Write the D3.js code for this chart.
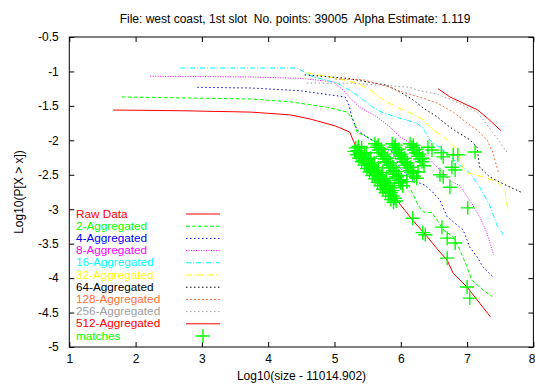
<!DOCTYPE html>
<html><head><meta charset="utf-8">
<script src="https://cdn.jsdelivr.net/npm/d3@7"></script>
<style>body{margin:0;background:#fff}text{font-family:"Liberation Sans",Arial,sans-serif;font-size:12px;white-space:pre}</style>
</head><body><svg id="c" width="535" height="386"></svg>
<script>
const titleText = "File: west coast, 1st slot  No. points: 39005  Alpha Estimate: 1.119";
const xTitle = "Log10(size - 11014.902)";
const yTitle = "Log10(P[X > x])";
const xTicks = [1,2,3,4,5,6,7,8];
const yTicks = [-5,-4.5,-4,-3.5,-3,-2.5,-2,-1.5,-1,-0.5];
const seriesNames = ["Raw Data","2-Aggregated","4-Aggregated","8-Aggregated","16-Aggregated","32-Aggregated","64-Aggregated","128-Aggregated","256-Aggregated","512-Aggregated"];

const raw = [[1.66,-1.56],[2.67,-1.57],[3.73,-1.59],[4.33,-1.63],[4.63,-1.69],[5.01,-1.79],[5.23,-1.88],[5.29,-2.02],[5.35,-2.13],[5.46,-2.29],[5.66,-2.50],[5.84,-2.72],[5.94,-2.87],[6.09,-3.05],[6.18,-3.16],[6.40,-3.40],[6.56,-3.59],[6.70,-3.74],[6.79,-3.93],[7.00,-4.13],[7.35,-4.56]];
const agg2 = [[1.79,-1.37],[3.73,-1.40],[4.33,-1.44],[4.89,-1.52],[5.19,-1.59],[5.28,-1.70],[5.34,-1.88],[5.49,-1.95],[5.64,-2.04],[5.84,-2.24],[5.99,-2.46],[6.14,-2.69],[6.26,-2.94],[6.34,-3.04],[6.47,-3.05],[6.55,-3.16],[6.64,-3.30],[6.79,-3.40],[6.89,-3.59],[7.00,-3.84],[7.07,-4.03],[7.24,-4.17],[7.38,-4.27]];
const agg4 = [[2.93,-1.23],[3.73,-1.24],[4.48,-1.28],[4.93,-1.34],[5.16,-1.37],[5.22,-1.49],[5.26,-1.66],[5.34,-1.85],[5.49,-1.95],[5.73,-2.10],[5.88,-2.17],[5.99,-2.40],[6.18,-2.58],[6.36,-2.65],[6.48,-2.75],[6.59,-2.87],[6.70,-3.11],[6.85,-3.23],[6.94,-3.30],[7.04,-3.55],[7.15,-3.69],[7.24,-3.84],[7.39,-3.98]];
const agg8 = [[2.22,-1.07],[3.73,-1.08],[4.48,-1.10],[4.98,-1.15],[5.13,-1.27],[5.24,-1.39],[5.38,-1.52],[5.64,-1.66],[5.84,-1.81],[5.99,-1.95],[6.14,-2.04],[6.34,-2.18],[6.55,-2.39],[6.74,-2.58],[6.89,-2.66],[7.04,-2.87],[7.19,-3.11],[7.30,-3.35],[7.40,-3.66]];
const agg16 = [[2.67,-0.95],[4.43,-0.95],[4.55,-1.01],[4.66,-1.07],[5.04,-1.17],[5.23,-1.27],[5.43,-1.41],[5.58,-1.52],[5.73,-1.60],[5.99,-1.68],[6.24,-1.75],[6.33,-1.82],[6.44,-2.00],[6.64,-2.14],[6.85,-2.33],[7.04,-2.47],[7.19,-2.68],[7.34,-2.94],[7.45,-3.23],[7.54,-3.36]];
const agg32 = [[4.58,-1.02],[5.04,-1.10],[5.34,-1.17],[5.54,-1.27],[5.73,-1.41],[5.94,-1.52],[6.14,-1.60],[6.34,-1.70],[6.44,-1.81],[6.55,-1.89],[6.70,-1.99],[6.85,-2.14],[6.91,-2.29],[6.93,-2.40],[7.00,-2.47],[7.24,-2.53],[7.45,-2.60],[7.57,-2.72],[7.62,-3.05]];
const agg64 = [[4.55,-1.05],[5.19,-1.10],[5.79,-1.20],[5.99,-1.30],[6.18,-1.41],[6.34,-1.53],[6.55,-1.66],[6.70,-1.78],[6.85,-1.88],[7.04,-1.99],[7.15,-2.10],[7.19,-2.39],[7.34,-2.53],[7.54,-2.63],[7.83,-2.76]];
const agg128 = [[5.01,-1.11],[5.43,-1.12],[5.84,-1.23],[6.03,-1.30],[6.34,-1.39],[6.55,-1.46],[6.79,-1.59],[7.00,-1.75],[7.15,-1.85],[7.30,-1.99],[7.39,-2.18],[7.47,-2.46]];
const agg256 = [[4.58,-1.17],[5.23,-1.17],[5.73,-1.20],[6.14,-1.23],[6.24,-1.27],[6.55,-1.33],[6.74,-1.40],[6.94,-1.49],[7.15,-1.59],[7.24,-1.70],[7.39,-1.89],[7.60,-2.17]];
const agg512 = [[6.56,-1.25],[6.74,-1.37],[6.94,-1.46],[7.16,-1.56],[7.31,-1.68],[7.51,-1.86]];
const matches = [
 [5.32,-2.11],[5.35,-2.15],[5.38,-2.18],[5.40,-2.23],[5.43,-2.26],[5.46,-2.29],[5.49,-2.33],[5.52,-2.36],[5.55,-2.40],[5.58,-2.43],[5.61,-2.47],[5.64,-2.50],[5.67,-2.55],[5.70,-2.58],[5.73,-2.62],[5.76,-2.66],[5.79,-2.69],[5.82,-2.74],[5.85,-2.76],[5.88,-2.81],[5.91,-2.84],[5.93,-2.88],
 [5.41,-2.11],[5.48,-2.18],[5.54,-2.26],[5.60,-2.33],[5.66,-2.40],[5.72,-2.47],[5.78,-2.55],[5.84,-2.62],[5.90,-2.69],
 [5.36,-2.09],[5.45,-2.20],[5.51,-2.28],[5.57,-2.37],[5.63,-2.44],[5.69,-2.52],[5.75,-2.59],[5.81,-2.66],[5.87,-2.73],
 [5.30,-2.16],[5.34,-2.21],[5.37,-2.26],[5.41,-2.31],[5.45,-2.36],[5.49,-2.41],[5.53,-2.46],[5.57,-2.51],[5.61,-2.56],[5.65,-2.61],[5.69,-2.66],[5.73,-2.71],[5.77,-2.76],[5.81,-2.81],[5.85,-2.86],[5.89,-2.90],
 [5.61,-2.05],[5.64,-2.10],[5.67,-2.14],[5.70,-2.18],[5.73,-2.23],[5.76,-2.27],[5.79,-2.31],[5.82,-2.36],[5.85,-2.40],[5.88,-2.44],[5.91,-2.49],[5.94,-2.53],[5.97,-2.58],[6.00,-2.62],[6.03,-2.66],
 [5.66,-2.07],[5.71,-2.13],[5.75,-2.20],[5.80,-2.26],[5.84,-2.33],[5.89,-2.39],[5.93,-2.45],[5.97,-2.51],[6.01,-2.57],
 [5.87,-2.05],[5.90,-2.10],[5.93,-2.14],[5.96,-2.18],[5.99,-2.23],[6.02,-2.27],[6.05,-2.31],[6.08,-2.36],[6.11,-2.40],[6.14,-2.44],[6.17,-2.47],[6.20,-2.52],[6.24,-2.55],
 [5.92,-2.07],[5.97,-2.13],[6.01,-2.20],[6.06,-2.26],[6.10,-2.33],[6.15,-2.39],[6.19,-2.45],
 [6.14,-2.05],[6.17,-2.10],[6.20,-2.14],[6.23,-2.18],[6.26,-2.23],[6.29,-2.27],[6.32,-2.31],[6.35,-2.37],
 [6.19,-2.07],[6.24,-2.13],[6.28,-2.20],[6.33,-2.26],
 [6.41,-2.10],[6.47,-2.14],[6.61,-2.18],[6.64,-2.24],[6.79,-2.21],[6.86,-2.21],[7.12,-2.17],[6.77,-2.39],[6.82,-2.43],[6.59,-2.50],[6.64,-2.53],[6.74,-2.68],[6.09,-2.60],[6.26,-2.46],
 [7.01,-2.98],[6.18,-3.13],[6.33,-3.34],[6.37,-3.37],[6.62,-3.26],[6.70,-3.42],[6.82,-3.49],[6.70,-3.71],[7.00,-4.13],[7.04,-4.29]
];
const seriesData = [raw,agg2,agg4,agg8,agg16,agg32,agg64,agg128,agg256,agg512];
const colors = ["#ff0000","#00ff00","#0000ff","#ff00ff","#00ffff","#ffff00","#000000","#ff7038","#a0a0a0","#ff0000"];
const dashes = [null,"4,2","1.5,2.5","1,1.5","5,2,1,2","6,2,1,2","1.5,2.5","2,2","1.5,2.5",null];

const svg = d3.select("#c");
svg.append("rect").attr("width",535).attr("height",386).attr("fill","#fff");
const L=69.3,R=533.4,T=37,B=347;
const x = d3.scaleLinear().domain([1,8]).range([L,R]);
const y = d3.scaleLinear().domain([-5,-0.5]).range([B,T]);

const fmt = d => String(d);
const gx = svg.append("g").attr("transform",`translate(0,${B})`)
  .call(d3.axisBottom(x).tickValues(xTicks).tickSize(-5).tickSizeOuter(0).tickPadding(7).tickFormat(fmt));
const gy = svg.append("g").attr("transform",`translate(${L},0)`)
  .call(d3.axisLeft(y).tickValues(yTicks).tickSize(-5).tickSizeOuter(0).tickPadding(10.5).tickFormat(fmt));
svg.append("g").attr("transform",`translate(0,${T})`)
  .call(d3.axisTop(x).tickValues(xTicks).tickSize(-5).tickSizeOuter(0).tickFormat(""));
svg.append("g").attr("transform",`translate(${R},0)`)
  .call(d3.axisRight(y).tickValues(yTicks).tickSize(-5).tickSizeOuter(0).tickFormat(""));
svg.selectAll(".domain").remove();
svg.selectAll(".tick line").attr("stroke","#000");
svg.selectAll(".tick text").attr("fill","#000").style("font-size","12px").style("font-family","'Liberation Sans',Arial,sans-serif");
gx.selectAll(".tick text").filter(d=>d===8).attr("text-anchor","end").attr("x",535-R);
svg.append("rect").attr("x",L).attr("y",T).attr("width",R-L).attr("height",B-T).attr("fill","none").attr("stroke","#000");

const line = d3.line().x(d=>x(d[0])).y(d=>y(d[1]));
const plot = svg.append("g");
seriesData.forEach((s,i)=>{
  plot.append("path").attr("d",line(s)).attr("fill","none").attr("stroke",colors[i])
   .attr("stroke-width",1).attr("stroke-dasharray",dashes[i]);
});
const cross = "M-7,0H7M0,-7V7";
plot.selectAll(".m").data(matches).enter().append("path").attr("class","m")
  .attr("transform",d=>`translate(${x(d[0])},${y(d[1])})`).attr("d",cross)
  .attr("fill","none").attr("stroke","#00ff00").attr("stroke-width",1.4);

const lg = svg.append("g");
const names = seriesNames.concat(["matches"]);
const lcolors = colors.concat(["#00ff00"]);
names.forEach((n,i)=>{
  const yy = 214 + i*12.2;
  lg.append("text").attr("transform",`translate(76,${yy}) scale(1.12,1)`).attr("dy","0.35em")
    .style("font-size","10.5px").attr("fill",lcolors[i]).text(n);
  if(i<10){
    lg.append("line").attr("x1",186).attr("x2",220).attr("y1",yy).attr("y2",yy)
      .attr("stroke",colors[i]).attr("stroke-dasharray",dashes[i]);
  } else {
    lg.append("path").attr("transform",`translate(203,${yy})`).attr("d",cross)
      .attr("fill","none").attr("stroke","#00ff00").attr("stroke-width",1.4);
  }
});

svg.append("text").attr("x",295).attr("y",19).attr("dy","0.35em").attr("text-anchor","middle").text(titleText);
svg.append("text").attr("x",301.5).attr("y",376).attr("dy","0.35em").attr("text-anchor","middle").text(xTitle);
svg.append("text").attr("transform","translate(19,192) rotate(-90)").attr("dy","0.35em").attr("text-anchor","middle").text(yTitle);
</script></body></html>
